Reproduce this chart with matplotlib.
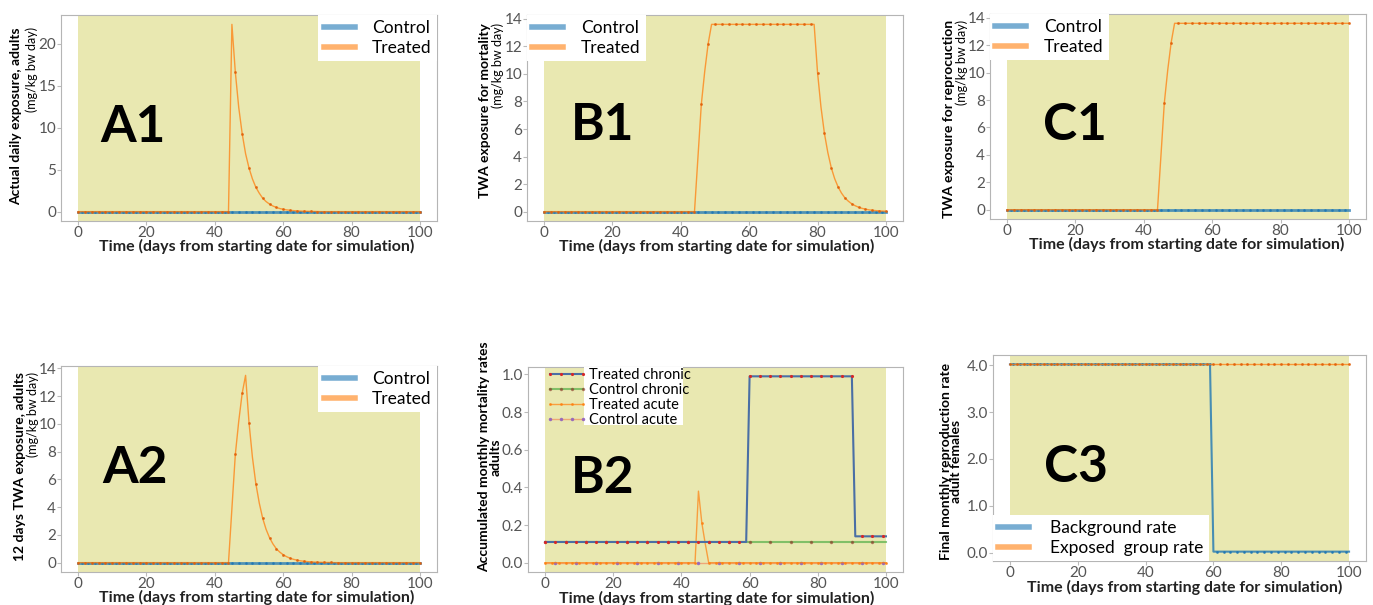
import numpy as np
import matplotlib
matplotlib.use("Agg")
import matplotlib.pyplot as plt
from matplotlib.patches import Rectangle

# ---- data ----
days = np.arange(0, 101)

control_zero = [0.0] * 101

a1_treated = ([0.0] * 45
              + [22.3, 16.6, 12.4, 9.3, 6.9, 5.2, 3.9, 2.9, 2.2, 1.6, 1.2, 0.9, 0.67,
                 0.5, 0.37, 0.28, 0.21, 0.16, 0.12, 0.09, 0.07, 0.05, 0.04, 0.03,
                 0.02, 0.015]
              + [0.0] * 30)

a2_treated = ([0.0] * 45
              + [3.9, 7.8, 10.2, 12.2, 13.5, 10.1, 7.6, 5.7, 4.3, 3.2, 2.4, 1.8, 1.35,
                 1.0, 0.76, 0.57, 0.43, 0.32, 0.24, 0.18, 0.13, 0.1, 0.075, 0.056,
                 0.042, 0.03, 0.024, 0.018, 0.013, 0.01]
              + [0.0] * 26)

b1_treated = ([0.0] * 45
              + [3.9, 7.8, 10.2, 12.2]
              + [13.6] * 31
              + [10.1, 7.6, 5.7, 4.3, 3.2, 2.4, 1.8, 1.35, 1.0, 0.76, 0.57, 0.43,
                 0.32, 0.24, 0.18, 0.13, 0.1, 0.075, 0.056, 0.042, 0.03])

c1_treated = [0.0] * 45 + [3.9, 7.8, 10.2, 12.2] + [13.6] * 52

b2_treated_chronic = [0.11] * 60 + [0.99] * 31 + [0.14] * 10
b2_control_chronic = [0.11] * 101
b2_treated_acute = [0.0] * 45 + [0.38, 0.21, 0.1] + [0.0] * 53
b2_control_acute = [0.0] * 101

c3_background = [4.02] * 60 + [0.02] * 41
c3_exposed = [4.02] * 101

xticks = [0, 20, 40, 60, 80, 100]
XLABEL = "Time (days from starting date for simulation)"

# ---- figure helpers (pixel layout of the reference) ----
W, H = 1373, 605
fig = plt.figure(figsize=(W / 100, H / 100), dpi=100)

BAND = "#e9e8b1"
BLUE = "#1f77b4"
ORANGE = "#ff7f0e"
LABEL_FONT = "Lato"


def px_axes(left, top, right, bottom):
    ax = fig.add_axes([left / W, 1 - bottom / H, (right - left) / W, (bottom - top) / H])
    ax.axvspan(0, 100, color=BAND, zorder=0, lw=0)
    for sp in ax.spines.values():
        sp.set_color("#b5b5b5")
    ax.tick_params(length=3, width=0.8, color="#bbbbbb", pad=0.5,
                   labelsize=11, labelcolor="#555555")
    ax.set_xticks(xticks)
    return ax


def style_ticks(ax):
    for lab in ax.get_xticklabels() + ax.get_yticklabels():
        lab.set_family(LABEL_FONT)


def ftext(x, y, s, **kw):
    return fig.text(x / W, 1 - y / H, s, **kw)


def big_label(x, y, s):
    ftext(x, y, s, fontsize=37, fontweight="bold", family=LABEL_FONT,
          ha="left", va="baseline")


def xlabel(x, y):
    ftext(x, y, XLABEL, fontsize=11.5, fontweight="bold", family=LABEL_FONT,
          ha="center", va="center", color="#222222")


def ylabel_pair(x_main, x_sub, top, main):
    ftext(x_main, top, main, fontsize=10, fontweight="bold", family=LABEL_FONT,
          rotation=90, rotation_mode="anchor", ha="right", va="center")
    ftext(x_sub, top, "(mg/kg bw day)", fontsize=9, family=LABEL_FONT,
          rotation=90, rotation_mode="anchor", ha="right", va="center")


def thick_handles(leg):
    for h in leg.legend_handles:
        h.set_linewidth(4)
        h.set_marker("None")
        h.set_alpha(0.6)


def exposure_panel(ax, treated, loc):
    ax.plot(days, control_zero, color=BLUE, lw=2, alpha=0.75, marker=".",
            ms=2, markevery=(1, 2), label="Control")
    ax.plot(days, treated, color=ORANGE, lw=1, alpha=0.75, marker=".",
            ms=2.2, mfc="#e0600a", mec="#e0600a", markevery=2, label="Treated")
    leg = ax.legend(loc=loc, borderaxespad=0, handlelength=1.8,
                    handletextpad=1.0, labelspacing=0.2, borderpad=0.3,
                    fancybox=False, framealpha=1, edgecolor="none",
                    prop={"family": LABEL_FONT, "size": 12.5})
    thick_handles(leg)
    style_ticks(ax)
    return leg


# ---- A1 ----
ax = px_axes(61, 15, 437, 221)
ax.set_yticks([0, 5, 10, 15, 20])
exposure_panel(ax, a1_treated, "upper right")
big_label(100, 142, "A1")
xlabel(257, 246)
ylabel_pair(16, 32, 27, "Actual daily exposure, adults")

# ---- B1 ----
ax = px_axes(527, 15, 903, 221)
ax.set_yticks(range(0, 15, 2))
exposure_panel(ax, b1_treated, "upper left")
big_label(571, 140, "B1")
xlabel(717, 246)
ylabel_pair(485, 498, 23, "TWA exposure for mortality")

# ---- C1 ----
ax = px_axes(990, 14, 1366, 219)
ax.set_yticks(range(0, 15, 2))
exposure_panel(ax, c1_treated, "upper left")
big_label(1043, 140, "C1")
xlabel(1187, 244)
ylabel_pair(949, 962, 20, "TWA exposure for reprocuction")

# ---- A2 ----
ax = px_axes(61, 366, 437, 572)
ax.set_yticks(range(0, 15, 2))
exposure_panel(ax, a2_treated, "upper right")
big_label(102, 483, "A2")
xlabel(257, 597)
ylabel_pair(20, 33, 372, "12 days TWA exposure, adults")

# ---- B2 ----
ax = px_axes(528, 367, 903, 572)
ax.plot(days, b2_control_chronic, color="#2ca02c", lw=1.5, alpha=0.55, marker=".",
        ms=3, mfc="#8c3b2b", mec="#8c3b2b", markevery=6, label="Control chronic")
ax.plot(days, b2_control_acute, color="#f0a070", lw=1, alpha=0.9, marker=".",
        ms=3, mfc="#9467bd", mec="#9467bd", markevery=(3, 6), label="Control acute")
ax.plot(days, b2_treated_acute, color=ORANGE, lw=1, alpha=0.7, marker=".",
        ms=2.2, markevery=2, label="Treated acute")
ax.plot(days, b2_treated_chronic, color="#4a6fa5", lw=1.5, marker=".",
        ms=2.5, mfc="#d62728", mec="#d62728", markevery=3, label="Treated chronic")
ax.set_yticks([0.0, 0.2, 0.4, 0.6, 0.8, 1.0])
ax.yaxis.set_major_formatter(matplotlib.ticker.FormatStrFormatter("%.1f"))
handles, labels = ax.get_legend_handles_labels()
order = ["Treated chronic", "Control chronic", "Treated acute", "Control acute"]
hmap = dict(zip(labels, handles))
ax.add_patch(Rectangle(((584 - 528) / 375, (572 - 425) / 205), (683 - 584) / 375,
                       (425 - 367) / 205, transform=ax.transAxes,
                       facecolor="white", edgecolor="none", zorder=4))
ax.legend([hmap[k] for k in order], order, loc="upper left",
          bbox_to_anchor=((544 - 528) / 375, 1.0), borderaxespad=0, borderpad=0.1,
          frameon=False, numpoints=4, handlelength=2.9, handletextpad=0.1,
          labelspacing=0.05, prop={"family": LABEL_FONT, "size": 10.5})
style_ticks(ax)
big_label(571, 493, "B2")
xlabel(717, 598)
ftext(490, 457, "Accumulated monthly mortality rates\nadults", fontsize=10,
      fontweight="bold", family=LABEL_FONT, rotation=90, ha="center", va="center",
      linespacing=0.95, multialignment="center")

# ---- C3 ----
ax = px_axes(993, 355, 1366, 561)
ax.plot(days, c3_background, color=BLUE, lw=1.5, alpha=0.8, marker=".",
        ms=2, markevery=(1, 2), label="Background rate")
ax.plot(days, c3_exposed, color=ORANGE, lw=1, alpha=0.75, marker=".",
        ms=2.2, mfc="#e0600a", mec="#e0600a", markevery=2, label="Exposed  group rate")
ax.set_yticks([0.0, 1.0, 2.0, 3.0, 4.0])
ax.yaxis.set_major_formatter(matplotlib.ticker.FormatStrFormatter("%.1f"))
leg = ax.legend(loc="lower left", borderaxespad=0, handlelength=1.8,
                handletextpad=1.2, labelspacing=0.2, borderpad=0.3,
                fancybox=False, framealpha=1, edgecolor="none",
                prop={"family": LABEL_FONT, "size": 12.5})
thick_handles(leg)
style_ticks(ax)
big_label(1044, 482, "C3")
xlabel(1185, 587)
ftext(951, 461, "Final monthly reproduction rate\nadult females", fontsize=10,
      fontweight="bold", family=LABEL_FONT, rotation=90, ha="center", va="center",
      linespacing=0.9, multialignment="center")

fig.savefig("out.png", dpi=100)
